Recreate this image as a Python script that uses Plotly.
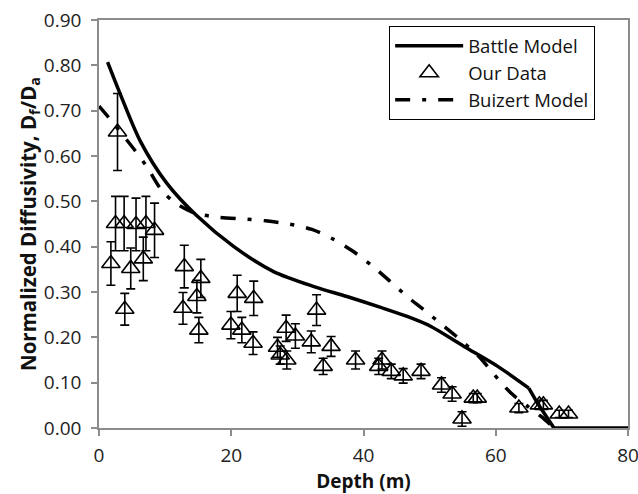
import plotly.graph_objects as go

# Measured data (Our Data)
data_depth = [1.8, 2.8, 2.5, 3.8, 3.9, 4.8, 5.6, 6.7, 7.1, 8.4,
              12.7, 12.9, 14.8, 15.1, 15.4, 19.95, 20.9, 21.6, 23.3, 23.4,
              27.0, 27.4, 28.3, 28.4, 29.7, 32.1, 32.9, 33.9, 35.1, 38.8,
              42.3, 42.8, 44.2, 46.0, 48.7, 51.8, 53.4, 54.9, 56.6, 57.2,
              63.5, 66.6, 67.2, 69.6, 71.0]
data_value = [0.363, 0.653, 0.451, 0.451, 0.262, 0.352, 0.449, 0.373, 0.451, 0.436,
              0.264, 0.356, 0.290, 0.216, 0.330, 0.227, 0.297, 0.216, 0.187, 0.286,
              0.178, 0.161, 0.220, 0.150, 0.203, 0.190, 0.260, 0.136, 0.180, 0.150,
              0.136, 0.150, 0.125, 0.115, 0.125, 0.095, 0.075, 0.020, 0.066, 0.066,
              0.044, 0.051, 0.051, 0.031, 0.031]
data_error = [0.048, 0.085, 0.060, 0.060, 0.035, 0.045, 0.058, 0.048, 0.060, 0.060,
              0.035, 0.047, 0.036, 0.028, 0.042, 0.030, 0.040, 0.028, 0.025, 0.038,
              0.022, 0.020, 0.029, 0.020, 0.027, 0.024, 0.034, 0.018, 0.022, 0.020,
              0.018, 0.020, 0.016, 0.016, 0.016, 0.016, 0.016, 0.016, 0.010, 0.010,
              0.010, 0.010, 0.010, 0.008, 0.008]

# Battle Model: smooth upper part and straight tail
battle_depth = [1.3, 3.2, 6.2, 10.3, 14.8, 20.4, 26.4, 32.5, 37.5, 42.6,
                46.6, 50.2, 55.2, 60.3, 65.0]
battle_value = [0.807, 0.737, 0.634, 0.539, 0.468, 0.400, 0.345, 0.312, 0.290, 0.266,
                0.246, 0.224, 0.180, 0.136, 0.088]
battle_tail_depth = [65.0, 66.3, 68.8, 80.0]
battle_tail_value = [0.088, 0.055, 0.000, 0.000]

# Buizert Model
buizert_depth = [0.0, 1.4, 5.45, 7.2, 9.5, 11.5, 14.5, 18.1, 21.9, 25.2,
                 28.7, 32.2, 35.5, 38.3, 41.2, 43.9, 46.6, 49.2, 52.2, 54.7,
                 57.7, 59.7, 62.3, 64.8, 66.8, 68.3]
buizert_value = [0.710, 0.686, 0.612, 0.577, 0.524, 0.497, 0.474, 0.465, 0.461, 0.457,
                 0.450, 0.438, 0.416, 0.391, 0.359, 0.325, 0.290, 0.260, 0.224, 0.194,
                 0.154, 0.119, 0.077, 0.048, 0.026, 0.007]

x_ticks = [0, 20, 40, 60, 80]
y_ticks = [0.0, 0.1, 0.2, 0.3, 0.4, 0.5, 0.6, 0.7, 0.8, 0.9]

FONT = "Open Sans"
AXIS_GRAY = "#8c8c8c"
TICK_SIZE = 19

fig = go.Figure()
fig.add_trace(go.Scatter(
    x=battle_depth, y=battle_value, mode="lines", name="Battle Model",
    legendgroup="battle", line_shape="spline",
    line=dict(color="black", width=3.5, smoothing=0.8)))
fig.add_trace(go.Scatter(
    x=battle_tail_depth, y=battle_tail_value, mode="lines", name="Battle Model",
    legendgroup="battle", showlegend=False,
    line=dict(color="black", width=3.5)))
fig.add_trace(go.Scatter(
    x=data_depth, y=data_value, mode="markers", name="Our Data",
    marker=dict(symbol="triangle-up-open", size=16, color="black",
                line=dict(color="black", width=1.6)),
    error_y=dict(type="data", array=data_error, visible=True,
                 color="black", thickness=1.6, width=4.5)))
fig.add_trace(go.Scatter(
    x=buizert_depth, y=buizert_value, mode="lines", name="Buizert Model",
    line_shape="spline",
    line=dict(color="black", width=3.5, dash="15px,12px,4px,12px", smoothing=0.8)))

fig.update_layout(
    width=638, height=494,
    margin=dict(l=99, r=10, t=20, b=66),
    paper_bgcolor="white", plot_bgcolor="white",
    font=dict(family=FONT, size=TICK_SIZE, color="#222"),
    showlegend=True,
    legend=dict(x=0.5485, y=0.985, xanchor="left", yanchor="top",
                bgcolor="white", bordercolor="black", borderwidth=1,
                font=dict(family=FONT, size=18.5, color="#111"),
                itemwidth=68, tracegroupgap=0,
                entrywidth=140, entrywidthmode="pixels"),
    xaxis=dict(range=[0, 80], tickvals=x_ticks, ticktext=[str(v) for v in x_ticks],
               automargin=False, ticklabeloverflow="allow",
               showgrid=False, zeroline=False,
               showline=True, linecolor=AXIS_GRAY, linewidth=1.5, mirror=True,
               ticks="outside", ticklen=6, tickcolor=AXIS_GRAY, tickwidth=1.5,
               ticklabelstandoff=3,
               tickfont=dict(family=FONT, size=TICK_SIZE, color="#222"),
               title=dict(text="<b>Depth (m)</b>", standoff=8,
                          font=dict(family=FONT, size=19, color="#111"))),
    yaxis=dict(range=[0, 0.9], tickvals=y_ticks,
               ticktext=[f"{v:.2f}" for v in y_ticks],
               automargin=False, ticklabeloverflow="allow",
               showgrid=False, zeroline=False,
               showline=True, linecolor=AXIS_GRAY, linewidth=1.5, mirror=True,
               ticks="outside", ticklen=6, tickcolor=AXIS_GRAY, tickwidth=1.5,
               ticklabelstandoff=6,
               tickfont=dict(family=FONT, size=TICK_SIZE, color="#222"),
               title=dict(text="<b>Normalized Diffusivity, D<sub>f</sub>/D<sub>a</sub></b>",
                          standoff=1,
                          font=dict(family=FONT, size=20.5, color="#111"))),
)

fig.write_html("out.html")
